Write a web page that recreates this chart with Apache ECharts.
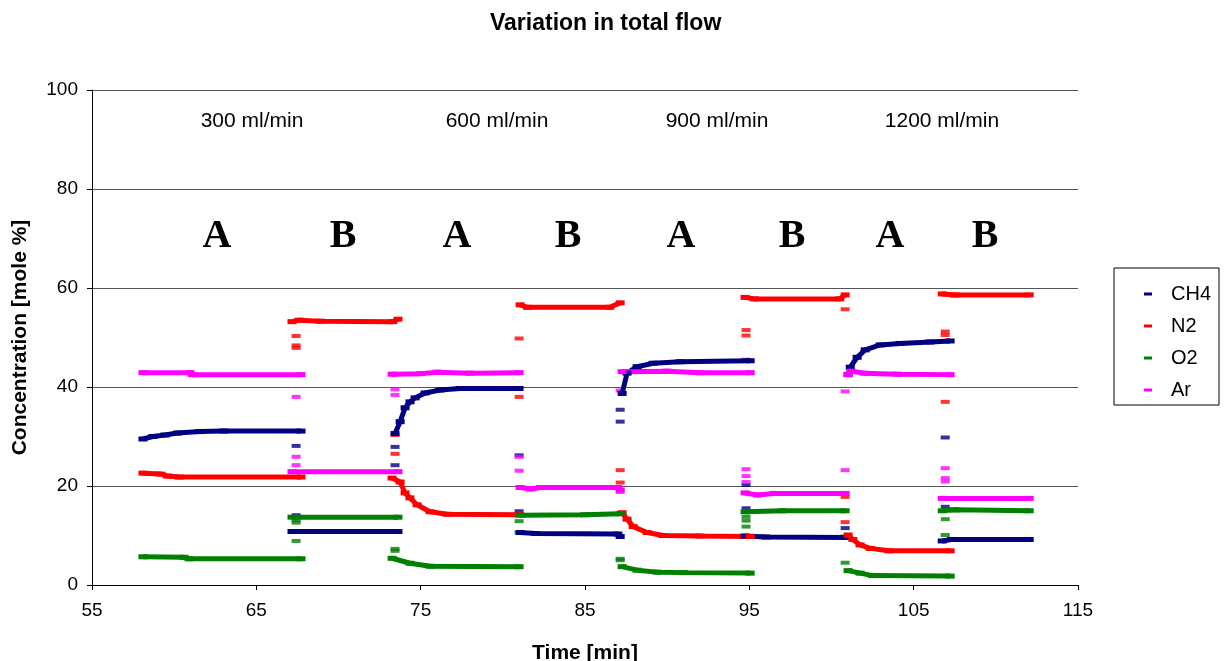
<!DOCTYPE html>
<html>
<head>
<meta charset="utf-8">
<script src="https://cdn.jsdelivr.net/npm/echarts@6/dist/echarts.min.js"></script>
<style>
html, body { margin: 0; padding: 0; background: #fff; }
#main { width: 1227px; height: 661px; }
</style>
</head>
<body>
<div id="main"></div>
<script>
// time of each switch between A and B (min)
var switchTimes = [67.42, 73.44, 80.99, 87.14, 94.8, 100.83, 106.92];

// steady / settling parts, one array per A or B period  [time, mole %]
var ch4Segs = [
	[[58.1, 29.5], [58.7, 30.0], [59.44, 30.3], [60.2, 30.7], [61.57, 31.0], [63, 31.1], [67.72, 31.1]],
	[[67.17, 10.8], [73.62, 10.8]],
	[[73.44, 30.6], [73.75, 33.0], [74.05, 35.8], [74.35, 37.0], [74.66, 37.8], [75.27, 38.8], [76.18, 39.4], [77.4, 39.7], [80.99, 39.7]],
	[[81.05, 10.6], [82, 10.4], [87.0, 10.3], [87.14, 9.8]],
	[[87.26, 38.7], [87.56, 42.8], [88.17, 44.1], [89.15, 44.8], [90.79, 45.1], [95.05, 45.3]],
	[[94.74, 9.9], [96, 9.7], [100.9, 9.6]],
	[[101.01, 42.5], [101.14, 44.0], [101.56, 46.0], [102.05, 47.5], [102.96, 48.5], [104.18, 48.8], [106.0, 49.1], [107.22, 49.3]],
	[[106.74, 8.9], [107.3, 9.2], [112.03, 9.2]]
];
var n2Segs = [
	[[58.1, 22.6], [59.2, 22.4], [59.6, 22.0], [60.3, 21.8], [67.72, 21.8]],
	[[67.17, 53.2], [67.6, 53.5], [68.9, 53.3], [73.3, 53.2], [73.62, 53.7]],
	[[73.26, 21.6], [73.75, 20.8], [74.05, 18.6], [74.35, 17.6], [74.78, 16.2], [75.57, 14.8], [76.61, 14.3], [80.99, 14.2]],
	[[81.05, 56.6], [81.5, 56.1], [86.5, 56.1], [87.14, 57.0]],
	[[87.26, 14.6], [87.56, 13.3], [87.93, 11.8], [88.78, 10.6], [89.75, 10.0], [92, 9.9], [95.05, 9.8]],
	[[94.74, 58.1], [95.3, 57.8], [100.5, 57.8], [100.83, 58.6]],
	[[101.01, 10.1], [101.3, 9.2], [101.74, 8.1], [102.35, 7.4], [103.5, 6.9], [107.22, 6.9]],
	[[106.74, 58.8], [107.5, 58.6], [112.03, 58.6]]
];
var o2Segs = [
	[[58.1, 5.7], [60.6, 5.6], [60.9, 5.3], [67.72, 5.3]],
	[[67.17, 13.7], [73.62, 13.7]],
	[[73.26, 5.4], [74.35, 4.4], [75.57, 3.8], [80.99, 3.7]],
	[[81.05, 14.1], [85, 14.2], [87.14, 14.4]],
	[[87.26, 3.7], [88.17, 3.0], [89.39, 2.6], [91, 2.5], [95.05, 2.4]],
	[[94.74, 14.8], [97, 15.0], [100.83, 15.0]],
	[[101.01, 2.9], [101.74, 2.4], [102.5, 1.9], [107.22, 1.8]],
	[[106.74, 15.0], [107.5, 15.2], [112.03, 15.0]]
];
var arSegs = [
	[[58.1, 42.9], [60.96, 42.9], [61.1, 42.5], [67.72, 42.5]],
	[[67.17, 22.9], [73.62, 22.9]],
	[[73.26, 42.6], [75, 42.7], [76, 43.0], [78, 42.8], [80.99, 42.9]],
	[[81.05, 19.7], [81.7, 19.4], [82.3, 19.7], [87.0, 19.7], [87.14, 19.2]],
	[[87.26, 43.1], [90, 43.2], [92, 42.9], [95.05, 42.9]],
	[[94.74, 18.6], [95.5, 18.2], [96.5, 18.5], [100.83, 18.5]],
	[[101.01, 42.5], [101.2, 43.2], [102, 42.8], [104, 42.6], [107.22, 42.5]],
	[[106.74, 17.5], [112.03, 17.5]]
];

// single readings caught while switching, one list per switch
var ch4Jumps = [[28.1, 14.1], [27.9, 24.2], [26.2, 14.9], [35.4, 33.0], [20.2, 15.5], [11.5], [29.8, 15.8]];
var n2Jumps  = [[50.3, 48.4, 47.9], [30.3, 26.5], [49.8, 38.0], [23.2, 20.7], [51.5, 50.4, 45.5], [55.7, 17.8, 12.7], [51.2, 50.5, 37.0]];
var o2Jumps  = [[13.1, 12.6, 8.9], [7.3, 6.9], [12.9, 10.6], [5.3, 5.0], [13.8, 13.0, 11.8], [9.8, 4.5], [13.3, 10.1]];
var arJumps  = [[38.0, 25.9, 24.2], [39.5, 38.4], [25.9, 23.1], [39.3, 18.8], [23.4, 22.0, 20.8], [39.1, 23.2], [23.6, 21.6, 20.9]];

var flowLabels = ['300 ml/min', '600 ml/min', '900 ml/min', '1200 ml/min'];
var phaseLabels = ['A', 'B', 'A', 'B', 'A', 'B', 'A', 'B'];

var gases = ['CH4', 'N2', 'O2', 'Ar'];
var colors = ['#000080', '#ff0000', '#008000', '#ff00ff'];
var allSegs = [ch4Segs, n2Segs, o2Segs, arSegs];
var allJumps = [ch4Jumps, n2Jumps, o2Jumps, arJumps];

function joinSegs(segs) {
	var out = [];
	segs.forEach(function(s, i) {
		if (i > 0) out.push([s[0][0], '-']);
		s.forEach(function(p) { out.push(p); });
	});
	return out;
}
function jumpPoints(jumps) {
	var out = [];
	jumps.forEach(function(vals, i) {
		vals.forEach(function(v) { out.push([switchTimes[i], v]); });
	});
	return out;
}

var series = [];
gases.forEach(function(g, i) {
	series.push({
		name : g,
		type : 'line',
		data : joinSegs(allSegs[i]),
		connectNulls : false,
		symbol : 'rect',
		symbolSize : [9, 5],
		showAllSymbol : true,
		itemStyle : { color : colors[i] },
		lineStyle : { color : colors[i], width : 5 },
		animation : false
	});
});
gases.forEach(function(g, i) {
	series.push({
		name : g,
		type : 'scatter',
		data : jumpPoints(allJumps[i]),
		symbol : 'rect',
		symbolSize : [9, 4],
		itemStyle : { color : colors[i] },
		animation : false
	});
});

// label positions in px (centre of each text)
var flowX = [252, 497, 717, 942];
var phaseX = [217, 343, 457, 568, 681, 792, 890, 985];
var graphics = [];
flowLabels.forEach(function(t, i) {
	graphics.push({
		type : 'text', x : flowX[i], y : 121,
		style : { text : t, font : '21px "Liberation Sans", Arial, sans-serif', fill : '#000', align : 'center', verticalAlign : 'middle' }
	});
});
phaseLabels.forEach(function(t, i) {
	graphics.push({
		type : 'text', x : phaseX[i], y : 237,
		style : { text : t, font : 'bold 40px "Liberation Serif", "Times New Roman", serif', fill : '#000', align : 'center', verticalAlign : 'middle' }
	});
});

var myChart = echarts.init(document.getElementById('main'));
myChart.setOption({
	animation : false,
	backgroundColor : '#fff',
	textStyle : { fontFamily : '"Liberation Sans", Arial, sans-serif' },
	title : {
		text : 'Variation in total flow',
		left : 485,
		top : 7,
		textStyle : { fontSize : 23, fontWeight : 'bold', color : '#000', fontFamily : '"Liberation Sans", Arial, sans-serif' }
	},
	legend : {
		data : gases,
		orient : 'vertical',
		left : 1114,
		top : 268,
		padding : [16, 8, 5, 30],
		itemGap : 12,
		itemWidth : 8,
		itemHeight : 3,
		icon : 'rect',
		borderColor : '#000',
		borderWidth : 1,
		textStyle : { fontSize : 20, color : '#000', padding : [0, 0, 0, 14] }
	},
	grid : { left : 92, right : 149, top : 90, bottom : 76, outerBoundsMode : 'none' },
	xAxis : {
		type : 'value',
		min : 55, max : 115, interval : 10,
		name : 'Time [min]',
		nameLocation : 'middle',
		nameGap : 58,
		nameTextStyle : { fontSize : 21, fontWeight : 'bold', color : '#000' },
		axisLine : { lineStyle : { color : '#000', width : 1 } },
		axisTick : { show : true, length : 5, lineStyle : { color : '#000' } },
		axisLabel : { fontSize : 19, color : '#000', margin : 16 },
		splitLine : { show : false }
	},
	yAxis : {
		type : 'value',
		min : 0, max : 100, interval : 20,
		name : 'Concentration [mole %]',
		nameLocation : 'middle',
		nameGap : 61,
		nameTextStyle : { fontSize : 21, fontWeight : 'bold', color : '#000' },
		axisLine : { show : true, lineStyle : { color : '#000', width : 1 } },
		axisTick : { show : true, length : 5, lineStyle : { color : '#000' } },
		axisLabel : { fontSize : 19, color : '#000', margin : 14 },
		splitLine : { show : true, lineStyle : { color : '#555', width : 1 } }
	},
	graphic : graphics,
	series : series
});
</script>
</body>
</html>
